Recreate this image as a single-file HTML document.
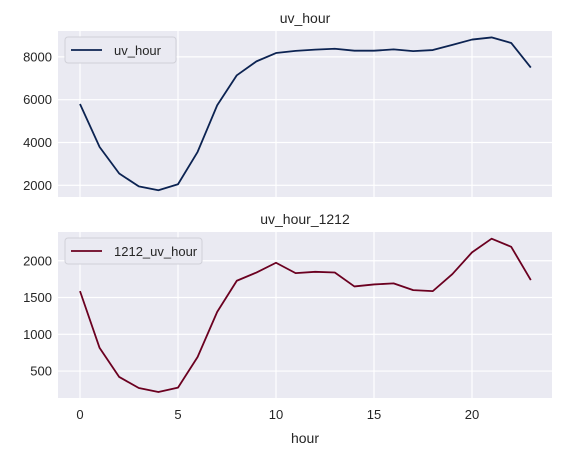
<!DOCTYPE html>
<html><head><meta charset="utf-8"><style>
body{margin:0;background:#fff;}
svg text{font-family:"Liberation Sans","DejaVu Sans",sans-serif;fill:#262626;}
</style></head><body>
<svg id="chart" width="563" height="457" xmlns="http://www.w3.org/2000/svg"></svg>
<script>
const hours=[0,1,2,3,4,5,6,7,8,9,10,11,12,13,14,15,16,17,18,19,20,21,22,23];
const uvHour=[5800,3790,2550,1950,1770,2050,3560,5740,7140,7790,8180,8280,8340,8380,8290,8290,8350,8270,8320,8560,8810,8910,8650,7500];
const uv1212=[1587,815,420,270,215,275,692,1305,1728,1840,1973,1832,1850,1840,1651,1678,1692,1601,1587,1819,2114,2300,2190,1737];
const xTicks=[0,5,10,15,20];
const topTicks=[2000,4000,6000,8000];
const botTicks=[500,1000,1500,2000];
const NS="http://www.w3.org/2000/svg";
const svg=document.getElementById('chart');
function el(t,a,p){const e=document.createElementNS(NS,t);for(const k in a)e.setAttribute(k,a[k]);(p||svg).appendChild(e);return e;}
const L=58,R=552;
const xs=h=>80+(h-0)*(472-80)/20;
function panel(name,top,bot,ymin,ymax,ticks,vals,color,title,legend,legW,showX){
  const ys=v=>bot-(v-ymin)*(bot-top)/(ymax-ymin);
  const g=el('g',{});
  
  
  const bg=el('rect',{x:L,y:top,width:R-L,height:bot-top,fill:'#eaeaf2'},g);
  
  
  xTicks.forEach(t=>{const l=el('line',{x1:xs(t),x2:xs(t),y1:top,y2:bot,stroke:'#fff','stroke-width':1.2},g);
    
    if(showX){const tx=el('text',{x:xs(t),y:bot+21,'text-anchor':'middle','font-size':13},g);tx.textContent=t;
      }});
  ticks.forEach(t=>{const l=el('line',{x1:L,x2:R,y1:ys(t),y2:ys(t),stroke:'#fff','stroke-width':1.2},g);
    
    const tx=el('text',{x:L-6,y:ys(t)+4.5,'text-anchor':'end','font-size':13},g);tx.textContent=t;
    });
  const pl=el('polyline',{points:vals.map((v,i)=>xs(hours[i])+','+ys(v)).join(' '),fill:'none',stroke:color,'stroke-width':1.8,'stroke-linejoin':'round'},g);
  
  const ti=el('text',{x:(L+R)/2,y:top-8,'text-anchor':'middle','font-size':14},g);ti.textContent=title;
  
  const lg=el('g',{},g);
  
  el('rect',{x:65,y:top+6,width:legW,height:26,rx:3,fill:'#eaeaf2',stroke:'#d0d0d8','stroke-width':1},lg);
  el('line',{x1:71,x2:102,y1:top+19,y2:top+19,stroke:color,'stroke-width':1.8},lg);
  const lt=el('text',{x:114,y:top+24,'font-size':13},lg);lt.textContent=legend;
  
}
panel('uv-hour',31,197,1453,9210,topTicks,uvHour,'#0c2352','uv_hour','uv_hour',111,false);
panel('uv-hour-1212',232,398,134,2391,botTicks,uv1212,'#6b0020','uv_hour_1212','1212_uv_hour',137,true);
const xl=el('text',{x:(L+R)/2,y:443,'text-anchor':'middle','font-size':14});xl.textContent='hour';

</script>
</body></html>
